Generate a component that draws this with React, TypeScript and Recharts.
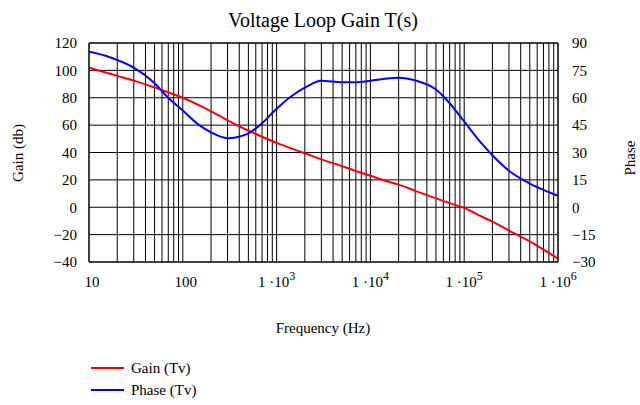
import {
  ComposedChart,
  Line,
  XAxis,
  YAxis,
  CartesianGrid,
  ReferenceLine,
} from 'recharts'

// Frequency points (Hz)
const FREQ = [
  10, 15, 20, 30, 50, 70, 100, 150, 200, 300, 500, 700, 1e3, 1.5e3, 2e3, 3e3,
  5e3, 7e3, 1e4, 1.5e4, 2e4, 3e4, 5e4, 7e4, 1e5, 1.5e5, 2e5, 3e5, 5e5, 7e5, 1e6,
]

// Gain (db)
const GAIN = [
  102, 98.5, 96, 92.5, 87.5, 84, 80, 74.5, 70, 63.5, 56, 51.5, 47, 42.5, 39.5,
  35, 30, 26.5, 23, 19, 16.5, 12, 6.5, 3, -0.5, -6.5, -10.5, -17, -25, -31, -37.5,
]

// Phase (deg)
const PHASE = [
  85.2, 83, 80.7, 76.5, 68, 60, 53, 45, 41, 37.8, 40.5, 46, 54, 61.5, 65.5,
  69.3, 68.5, 68.5, 69.3, 70.5, 71, 69.5, 64.5, 57, 47, 35.5, 28.5, 20, 13, 9.5,
  6.2,
]

const X_TICKS = [10, 100, 1e3, 1e4, 1e5, 1e6]
const GAIN_TICKS = [-40, -20, 0, 20, 40, 60, 80, 100, 120]
const PHASE_TICKS = [-30, -15, 0, 15, 30, 45, 60, 75, 90]
const MINOR_MULT = [2, 3, 4, 5, 6, 7, 8, 9]

const data = FREQ.map((f, i) => ({ f, gain: GAIN[i], phase: PHASE[i] }))

// 2..9 x each decade, for the log grid
const minorLines = X_TICKS.slice(0, -1).flatMap(d => MINOR_MULT.map(m => m * d))

const FONT = '"Liberation Serif", "Times New Roman", serif'

const fmt = (v: number) => (v < 0 ? `\u2212${-v}` : `${v}`)

function FreqTick({ x, y, payload }: any) {
  const v = payload.value
  const exp = Math.round(Math.log10(v))
  if (exp <= 2) {
    return (
      <text x={x + 3} y={y + 17} textAnchor="middle" fontSize={15} fill="#000" style={{ fontFamily: FONT }}>
        {v}
      </text>
    )
  }
  return (
    <text x={x} y={y + 17} textAnchor="middle" fontSize={15} fill="#000" style={{ fontFamily: FONT }}>
      1 {'\u00b7'}10
      <tspan dy={-7} fontSize={12}>{exp}</tspan>
    </text>
  )
}

function LegendBox() {
  const items = [
    { name: 'Gain (Tv)', color: '#ff0000' },
    { name: 'Phase (Tv)', color: '#0000ff' },
  ]
  return (
    <div style={{ fontFamily: FONT, fontSize: 15, color: '#000' }}>
      {items.map(it => (
        <div key={it.name} style={{ display: 'flex', alignItems: 'center', height: 22 }}>
          <span style={{ width: 33, height: 2, background: it.color, marginRight: 7 }} />
          <span>{it.name}</span>
        </div>
      ))}
    </div>
  )
}

export default function App() {
  return (
    <div
      style={{
        position: 'absolute',
        left: 0,
        top: 0,
        width: 640,
        height: 405,
        background: '#fff',
        fontFamily: FONT,
      }}
    >
      <ComposedChart
        width={640}
        height={405}
        data={data}
        margin={{ top: 43, right: 32, bottom: 113, left: 39 }}
        style={{ fontFamily: FONT }}
      >
        <CartesianGrid yAxisId="gain" vertical={false} stroke="#000" strokeOpacity={1} />
        {minorLines.map(v => (
          <ReferenceLine key={`m-${v}`} x={v} yAxisId="gain" stroke="#000" strokeWidth={1} />
        ))}
        {X_TICKS.map(v => (
          <ReferenceLine key={`M-${v}`} x={v} yAxisId="gain" stroke="#000" strokeWidth={1} />
        ))}
        <ReferenceLine y={120} yAxisId="gain" stroke="#000" />
        <XAxis
          dataKey="f"
          type="number"
          scale="log"
          domain={[10, 1e6]}
          ticks={X_TICKS}
          allowDataOverflow
          height={30}
          axisLine={{ stroke: '#000' }}
          tickLine={false}
          tick={<FreqTick />}
        />
        <YAxis
          yAxisId="gain"
          domain={[-40, 120]}
          ticks={GAIN_TICKS}
          width={50}
          axisLine={{ stroke: '#000' }}
          tickLine={false}
          tickFormatter={fmt}
          tick={{ fill: '#000', fontSize: 15, style: { fontFamily: FONT } }}
          tickMargin={6}
        />
        <YAxis
          yAxisId="phase"
          orientation="right"
          domain={[-30, 90]}
          ticks={PHASE_TICKS}
          width={50}
          axisLine={{ stroke: '#000' }}
          tickLine={false}
          tickFormatter={fmt}
          tick={{ fill: '#000', fontSize: 15, style: { fontFamily: FONT } }}
          tickMargin={8}
        />
        <Line
          yAxisId="gain"
          dataKey="gain"
          name="Gain (Tv)"
          stroke="#ff0000"
          strokeWidth={2}
          dot={false}
          type="monotone"
          isAnimationActive={false}
        />
        <Line
          yAxisId="phase"
          dataKey="phase"
          name="Phase (Tv)"
          stroke="#0000ff"
          strokeWidth={2}
          dot={false}
          type="monotone"
          isAnimationActive={false}
        />
        <text x={323} y={27} textAnchor="middle" fontSize={20} style={{ fontFamily: FONT }} fill="#000">
          Voltage Loop Gain T(s)
        </text>
        <text x={323} y={333} textAnchor="middle" fontSize={15} style={{ fontFamily: FONT }} fill="#000">
          Frequency (Hz)
        </text>
        <text
          x={23}
          y={153}
          textAnchor="middle"
          fontSize={15}
          style={{ fontFamily: FONT }}
          fill="#000"
          transform="rotate(-90 23 153)"
        >
          Gain (db)
        </text>
        <text
          x={635}
          y={158}
          textAnchor="middle"
          fontSize={15}
          style={{ fontFamily: FONT }}
          fill="#000"
          transform="rotate(-90 635 158)"
        >
          Phase
        </text>
      </ComposedChart>
      <div style={{ position: 'absolute', left: 91, top: 357 }}>
        <LegendBox />
      </div>
    </div>
  )
}
